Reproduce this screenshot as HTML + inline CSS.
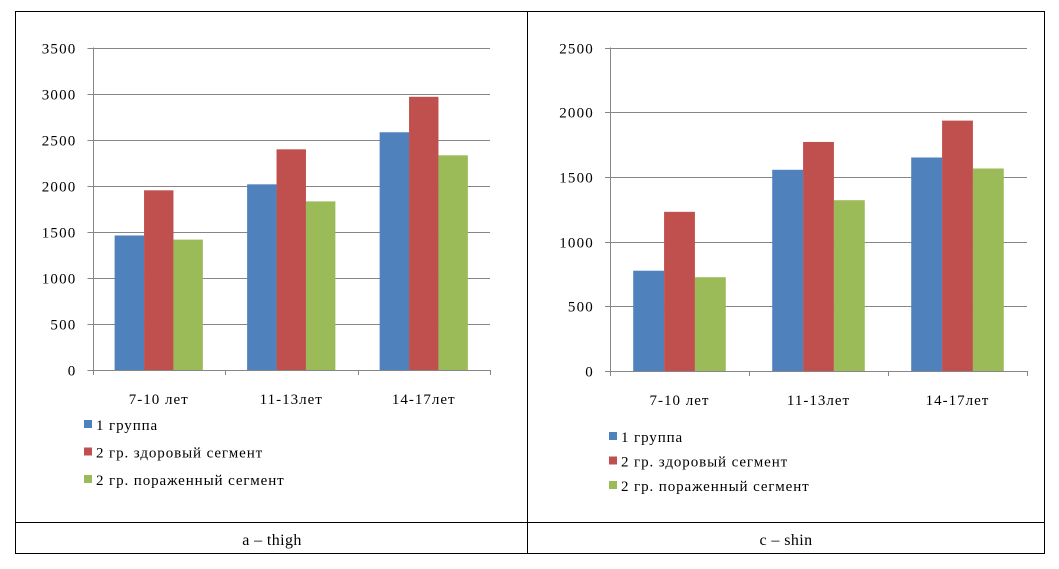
<!DOCTYPE html>
<html><head><meta charset="utf-8"><style>
html,body{margin:0;padding:0;background:#fff;}
svg{display:block;font-family:"Liberation Serif","Noto Serif CJK SC",serif;}
</style></head><body>
<svg id="s" width="1059" height="569" viewBox="0 0 1059 569">
<rect x="15.5" y="11.5" width="1029" height="542" fill="none" stroke="#000" stroke-width="1"/>
<line x1="15" y1="522.5" x2="1045" y2="522.5" stroke="#000"/>
<line x1="527.5" y1="11" x2="527.5" y2="554" stroke="#000"/>
<text x="272" y="545" font-size="16" letter-spacing="0.4" text-anchor="middle">a – thigh</text>
<text x="786" y="545" font-size="16" letter-spacing="0.4" text-anchor="middle">c – shin</text>
<g id="c1"></g>
<g id="c2"></g>
</svg>
<script>
const categories = ["7-10 лет", "11-13лет", "14-17лет"];
const seriesNames = ["1 группа", "2 гр. здоровый сегмент", "2 гр. пораженный сегмент"];
const thighGroup1 = [1460, 2015, 2580];
const thighHealthy = [1950, 2395, 2965];
const thighAffected = [1415, 1830, 2330];
const thighTicks = [0, 500, 1000, 1500, 2000, 2500, 3000, 3500];
const shinGroup1 = [775, 1555, 1650];
const shinHealthy = [1230, 1770, 1935];
const shinAffected = [725, 1320, 1565];
const shinTicks = [0, 500, 1000, 1500, 2000, 2500];
const colors = ["#4f81bd", "#c0504d", "#9bbb59"];
const NS = "http://www.w3.org/2000/svg";
function mk(parent, tag, attrs, text) {
  const e = document.createElementNS(NS, tag);
  for (const k in attrs) e.setAttribute(k, attrs[k]);
  if (text !== undefined) e.textContent = text;
  parent.appendChild(e);
  return e;
}
function draw(gid, prefix, series, ticks, L, R, T, B, legX, legY, legGap) {
  const g = document.getElementById(gid);
  const maxV = ticks[ticks.length - 1];
  const y = v => B - (v / maxV) * (B - T);
  const cw = (R - L) / categories.length;
  const x = i => L + i * cw;
  ticks.forEach(t => {
    const yy = Math.round(y(t)) + 0.5;
    const gl = mk(g, "line", {x1: L - 5, x2: R, y1: yy, y2: yy, stroke: "#868686", "stroke-width": 1});
    
    
    const tl = mk(g, "text", {x: L - 16, y: yy + 5, "font-size": 15, "letter-spacing": 1.2, "text-anchor": "end", fill: "#000"}, String(t));
    
    
  });
  const bw = cw * 0.222;
  series.forEach((vals, s) => {
    vals.forEach((v, i) => {
      const cx = x(i) + cw / 2;
      const bx = cx - 1.5 * bw + s * bw;
      const r = mk(g, "rect", {x: bx, y: y(v), width: bw, height: B - y(v), fill: colors[s]});
      
      
    });
  });
  const ax = mk(g, "line", {x1: Math.round(L) + 0.5, x2: Math.round(L) + 0.5, y1: T, y2: B + 5, stroke: "#868686"});
  
  
  const xa = mk(g, "line", {x1: L - 5, x2: R, y1: Math.round(B) + 0.5, y2: Math.round(B) + 0.5, stroke: "#868686"});
  
  
  for (let i = 1; i <= categories.length; i++) {
    const tx = Math.round(x(i)) + 0.5;
    const tk = mk(g, "line", {x1: tx, x2: tx, y1: B, y2: B + 5, stroke: "#868686"});
    
    
  }
  categories.forEach((c, i) => {
    const t = mk(g, "text", {x: x(i) + cw / 2, y: B + 34, "font-size": 15, "letter-spacing": 1, "text-anchor": "middle"}, c);
    
    
  });
  seriesNames.forEach((n, s) => {
    const yy = legY + s * legGap;
    const sq = mk(g, "rect", {x: legX, y: yy, width: 8, height: 8, fill: colors[s]});
    
    
    const t = mk(g, "text", {x: legX + 12, y: yy + 10, "font-size": 15, "letter-spacing": 0.9}, n);
    
    
  });
}
draw("c1", "thigh", [thighGroup1, thighHealthy, thighAffected], thighTicks, 92.5, 490, 47.5, 370, 84, 420, 27.5);
draw("c2", "shin", [shinGroup1, shinHealthy, shinAffected], shinTicks, 610, 1027, 47.5, 371, 609, 432, 24.5);
</script>
</body></html>
